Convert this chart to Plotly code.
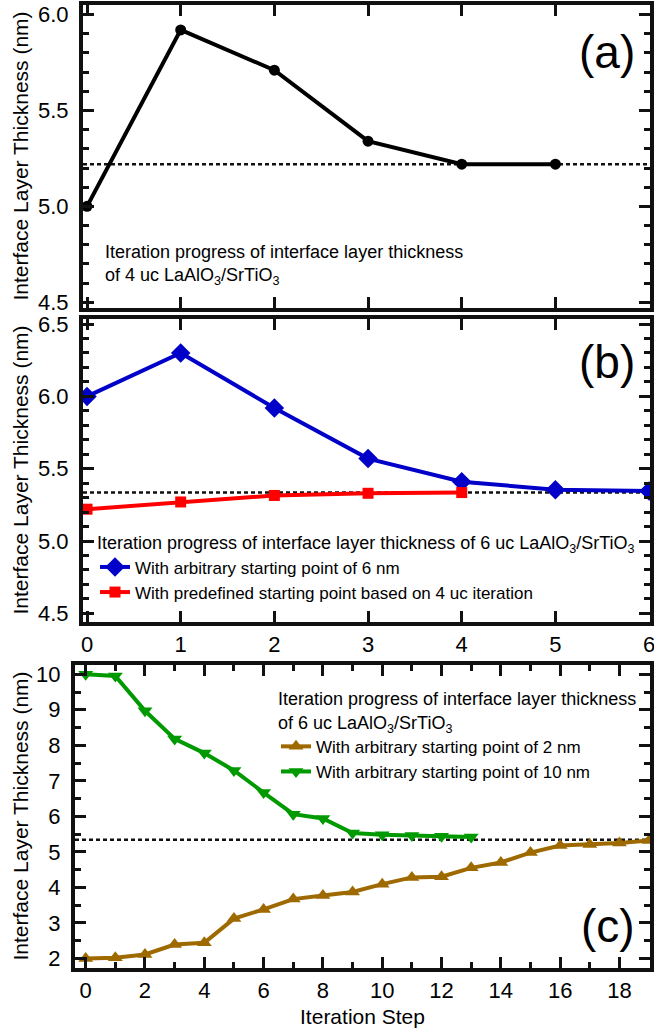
import plotly.graph_objects as go

# ---------------- data ----------------
steps_a = [0, 1, 2, 3, 4, 5]
thick_a = [5.00, 5.92, 5.71, 5.34, 5.22, 5.22]
conv_a = 5.22

steps_b_blue = [0, 1, 2, 3, 4, 5, 6]
thick_b_blue = [6.00, 6.30, 5.92, 5.57, 5.41, 5.355, 5.345]
steps_b_red = [0, 1, 2, 3, 4]
thick_b_red = [5.22, 5.27, 5.315, 5.33, 5.335]
conv_b = 5.335

steps_c_brown = list(range(20))
thick_c_brown = [2.00, 2.02, 2.11, 2.39, 2.44, 3.12, 3.38, 3.67, 3.77, 3.87,
                 4.09, 4.28, 4.30, 4.55, 4.70, 4.98, 5.18, 5.21, 5.25, 5.32]
steps_c_green = list(range(14))
thick_c_green = [10.00, 9.95, 8.97, 8.18, 7.78, 7.29, 6.67, 6.06, 5.94, 5.53,
                 5.48, 5.46, 5.44, 5.42]
conv_c = 5.34

ytitle = "Interface Layer Thickness (nm)"
xtitle = "Iteration Step"
sub = "LaAlO<sub>3</sub>/SrTiO<sub>3</sub>"

FONT = "Liberation Sans, Arial, sans-serif"
INK = "#111111"
BLUE = "#0000c8"
RED = "#ff0000"
BROWN = "#9e6a00"
GREEN = "#009a00"

W, H = 654, 1036
ML, MR, MT, MB = 75, 4, 5, 68
PW = W - ML - MR
PH = H - MT - MB


def px_x(x):
    return (x - ML) / PW


def px_y(y):
    return (H - MB - y) / PH


fig = go.Figure()

fig.add_trace(go.Scatter(x=steps_a, y=thick_a, mode="lines+markers",
                         line=dict(color="black", width=4),
                         marker=dict(symbol="circle", size=11, color="black"),
                         xaxis="x", yaxis="y", showlegend=False))
fig.add_trace(go.Scatter(x=steps_b_blue, y=thick_b_blue, mode="lines+markers",
                         name="With arbitrary starting point of 6 nm",
                         line=dict(color=BLUE, width=4),
                         marker=dict(symbol="diamond", size=15, color=BLUE),
                         xaxis="x2", yaxis="y2", legend="legend"))
fig.add_trace(go.Scatter(x=steps_b_red, y=thick_b_red, mode="lines+markers",
                         name="With predefined starting point based on 4 uc iteration",
                         line=dict(color=RED, width=4),
                         marker=dict(symbol="square", size=11, color=RED),
                         xaxis="x2", yaxis="y2", legend="legend"))
fig.add_trace(go.Scatter(x=steps_c_brown, y=thick_c_brown, mode="lines+markers",
                         name="With arbitrary starting point of 2 nm",
                         line=dict(color=BROWN, width=4),
                         marker=dict(symbol="triangle-up", size=13, color=BROWN),
                         xaxis="x3", yaxis="y3", legend="legend2"))
fig.add_trace(go.Scatter(x=steps_c_green, y=thick_c_green, mode="lines+markers",
                         name="With arbitrary starting point of 10 nm",
                         line=dict(color=GREEN, width=4),
                         marker=dict(symbol="triangle-down", size=13, color=GREEN),
                         xaxis="x3", yaxis="y3", legend="legend2"))

axis_common = dict(showline=True, linecolor=INK, linewidth=4, mirror="allticks",
                   ticks="inside", ticklen=11, tickwidth=3, tickcolor=INK,
                   showgrid=False, zeroline=False,
                   tickfont=dict(family=FONT, size=22, color="black"),
                   ticklabeloverflow="allow")
minor_common = dict(ticklen=6, tickwidth=3, ticks="inside", tickcolor=INK)

dom_ab = [px_x(83), 1.0]
dom_c = [0.0, 1.0]
dom_ya = [px_y(308), px_y(5)]
dom_yb = [px_y(622), px_y(319)]
dom_yc = [0.0, px_y(665)]

fig.update_layout(
    xaxis=dict(axis_common, domain=dom_ab, anchor="y", range=[-0.043, 6.01],
               dtick=1, tick0=0, showticklabels=False),
    yaxis=dict(axis_common, domain=dom_ya, anchor="x",
               range=[4.47, 6.05], dtick=0.5, tick0=4.5, tickformat=".1f",
               ticksuffix=" ", minor=dict(minor_common, dtick=0.1)),
    xaxis2=dict(axis_common, domain=dom_ab, anchor="y2", range=[-0.043, 6.01],
                dtick=1, tick0=0),
    yaxis2=dict(axis_common, domain=dom_yb, anchor="x2",
                range=[4.44, 6.535], dtick=0.5, tick0=4.5, tickformat=".1f",
                ticksuffix=" ", minor=dict(minor_common, dtick=0.1)),
    xaxis3=dict(axis_common, domain=dom_c, anchor="y3", range=[-0.36, 19.03],
                dtick=2, tick0=0, minor=dict(minor_common, dtick=1),
                title=dict(text=xtitle, font=dict(family=FONT, size=21, color="black"),
                           standoff=8)),
    yaxis3=dict(axis_common, domain=dom_yc, anchor="x3",
                range=[1.73, 10.26], dtick=1, tick0=2, ticksuffix=" ",
                minor=dict(minor_common, dtick=0.5)),
    legend=dict(x=px_x(95), y=px_y(526), xanchor="left", yanchor="top",
                bgcolor="rgba(0,0,0,0)", borderwidth=0,
                font=dict(family=FONT, size=17, color="black"),
                title=dict(text="Iteration progress of interface layer thickness of 6 uc " + sub,
                           font=dict(family=FONT, size=18, color="black"), side="top"),
                itemwidth=30, tracegroupgap=0),
    legend2=dict(x=px_x(276), y=px_y(682), xanchor="left", yanchor="top",
                 bgcolor="rgba(0,0,0,0)", borderwidth=0,
                 font=dict(family=FONT, size=17, color="black"),
                 title=dict(text="Iteration progress of interface layer thickness<br>of 6 uc " + sub,
                            font=dict(family=FONT, size=18, color="black"), side="top"),
                 itemwidth=30, tracegroupgap=0),
    width=W, height=H,
    margin=dict(l=ML, r=MR, t=MT, b=MB, autoexpand=False),
    paper_bgcolor="white", plot_bgcolor="white",
    font=dict(family=FONT, color="black"),
)

for yref, xref, val in [("y", "x", conv_a), ("y2", "x2", conv_b), ("y3", "x3", conv_c)]:
    fig.add_shape(type="line", xref=xref + " domain", yref=yref, x0=0, x1=1,
                  y0=val, y1=val, line=dict(color=INK, width=2.5, dash="4px,3px"),
                  layer="below")

for dom in [dom_ya, dom_yb, dom_yc]:
    fig.add_annotation(xref="paper", yref="paper", x=px_x(20), y=(dom[0] + dom[1]) / 2,
                       xanchor="center", yanchor="middle", showarrow=False,
                       text=ytitle, textangle=-90,
                       font=dict(family=FONT, size=21, color="black"))

fig.add_annotation(xref="paper", yref="paper", x=px_x(103), y=px_y(240),
                   xanchor="left", yanchor="top", align="left", showarrow=False,
                   text="Iteration progress of interface layer thickness<br>of 4 uc " + sub,
                   font=dict(family=FONT, size=18, color="black"))
for lab, xc, yc in [("(a)", 607, 52), ("(b)", 607, 362), ("(c)", 608, 926)]:
    fig.add_annotation(xref="paper", yref="paper", x=px_x(xc), y=px_y(yc),
                       xanchor="center", yanchor="middle", showarrow=False, text=lab,
                       font=dict(family=FONT, size=46, color="black"))

fig.write_html("out.html")
